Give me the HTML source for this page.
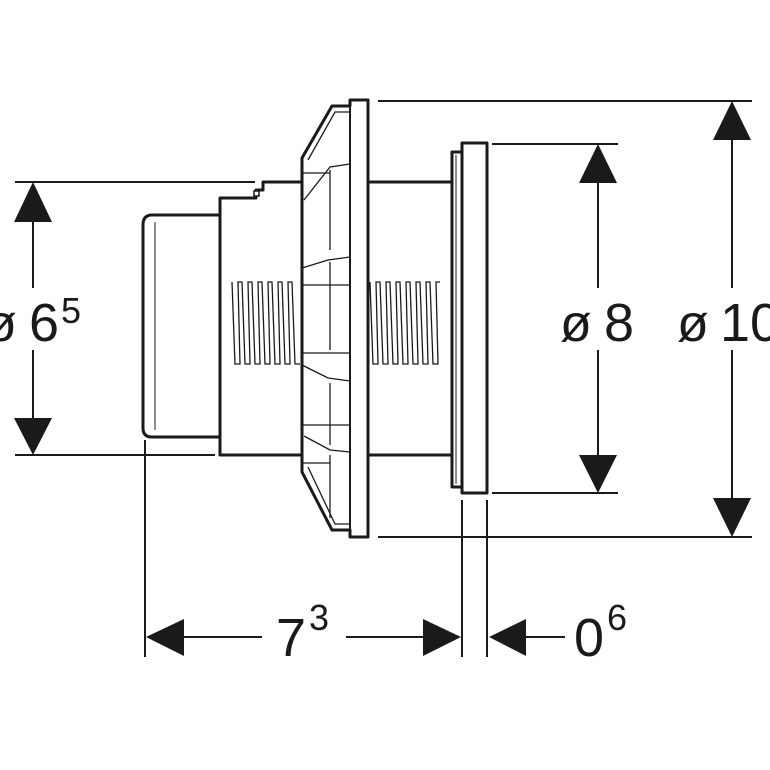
<!DOCTYPE html>
<html><head><meta charset="utf-8"><style>
html,body{margin:0;padding:0;background:#fff;}
svg{display:block;}
text{font-family:"Liberation Sans",sans-serif;fill:#1a1a1a;}
</style></head><body>
<svg width="770" height="770" viewBox="0 0 770 770" xmlns="http://www.w3.org/2000/svg">
<g stroke="#1a1a1a" fill="none" stroke-width="2">
<line x1="15" y1="182" x2="255" y2="182"/>
<line x1="15" y1="455" x2="215" y2="455"/>
<line x1="378" y1="101" x2="752" y2="101"/>
<line x1="378" y1="537" x2="752" y2="537"/>
<line x1="492" y1="144" x2="618" y2="144"/>
<line x1="492" y1="493" x2="618" y2="493"/>
<line x1="145" y1="440" x2="145" y2="657"/>
<line x1="462" y1="500" x2="462" y2="657"/>
<line x1="487" y1="500" x2="487" y2="657"/>
<line x1="33" y1="220" x2="33" y2="288"/>
<line x1="33" y1="350" x2="33" y2="420"/>
<line x1="598" y1="180" x2="598" y2="288"/>
<line x1="598" y1="350" x2="598" y2="458"/>
<line x1="732" y1="138" x2="732" y2="288"/>
<line x1="732" y1="350" x2="732" y2="500"/>
<line x1="180" y1="637" x2="262" y2="637"/>
<line x1="346" y1="637" x2="425" y2="637"/>
<line x1="525" y1="637" x2="565" y2="637"/>
</g>
<g fill="#1a1a1a">
<polygon points="33,182 14,222 52,222"/>
<polygon points="33,455 14,418 52,418"/>
<polygon points="598,144 579,183 617,183"/>
<polygon points="598,493 579,455 617,455"/>
<polygon points="732,101 713,140 751,140"/>
<polygon points="732,537 713,498 751,498"/>
<polygon points="146,637 184,619 184,656"/>
<polygon points="461,637 423,619 423,656"/>
<polygon points="489,637 526,619 526,656"/>
</g>
<text x="-15" y="341" font-size="52">ø</text><text x="29" y="341" font-size="54">6</text><text x="61" y="323" font-size="36">5</text>
<text x="560" y="341" font-size="52">ø</text><text x="604" y="341" font-size="54">8</text>
<text x="677" y="341" font-size="52">ø</text><text x="720" y="341" font-size="54">10</text>
<text x="276" y="656" font-size="54">7</text><text x="309" y="630" font-size="36">3</text>
<text x="574" y="656" font-size="54">0</text><text x="607" y="630" font-size="36">6</text>
<g stroke="#1a1a1a" fill="#fff" stroke-width="3" stroke-linejoin="round">
<path d="M220,215 L152,215 Q143,215 143,225 L143,428 Q143,437 152,437 L220,437"/>
<path d="M220,437 L220,455 L302,455 L302,182 L263,182 L263,190 L256,190 L256,198 L220,198 Z"/>
<rect x="368" y="182" width="84" height="273"/>
<rect x="452" y="152" width="10" height="335"/>
<rect x="462" y="143" width="25" height="350"/>
<path d="M302,158 L332,106 L350,106 L350,100 L368,100 L368,537 L350,537 L350,530 L332,530 L302,472 Z"/>
</g>
<g stroke="#1a1a1a" fill="none" stroke-width="1.3">
<line x1="155" y1="222" x2="155" y2="430" stroke-width="1"/>
<rect x="254" y="191" width="5" height="5" stroke-width="1.5" fill="#fff"/>
<line x1="456" y1="155" x2="456" y2="484" stroke-width="1"/>
<line x1="350" y1="106" x2="350" y2="530" stroke-width="2"/>
<polyline points="308,160 335,112 350,112"/>
<polyline points="308,467 335,524 350,524"/>
<line x1="302" y1="173" x2="330" y2="173"/>
<polyline points="304,200 330,167 350,164"/>
<line x1="330" y1="170" x2="330" y2="250"/>
<polyline points="302,268 328,260 350,257"/>
<line x1="302" y1="285" x2="350" y2="285"/>
<line x1="330" y1="262" x2="330" y2="350"/>
<line x1="302" y1="353" x2="350" y2="353"/>
<polyline points="302,365 328,378 350,381"/>
<line x1="330" y1="383" x2="330" y2="445"/>
<polyline points="304,436 330,450 350,452"/>
<line x1="302" y1="425" x2="350" y2="425"/>
<line x1="330" y1="455" x2="330" y2="518"/>
<line x1="302" y1="463" x2="330" y2="463"/>
<path d="M232,282 L235,364 L240,364 L238,282 L242,282 L245,364 L250,364 L248,282 L252,282 L255,364 L260,364 L258,282 L262,282 L265,364 L270,364 L268,282 L272,282 L275,364 L280,364 L278,282 L282,282 L285,364 L290,364 L288,282 L292,282 L295,364 L300,364"/>
<path d="M370,282 L373,364 L378,364 L376,282 L380,282 L383,364 L388,364 L386,282 L390,282 L393,364 L398,364 L396,282 L400,282 L403,364 L408,364 L406,282 L410,282 L413,364 L418,364 L416,282 L420,282 L423,364 L428,364 L426,282 L430,282 L433,364 L438,364 L436,282 L440,282"/>
</g>
</svg>
</body></html>
